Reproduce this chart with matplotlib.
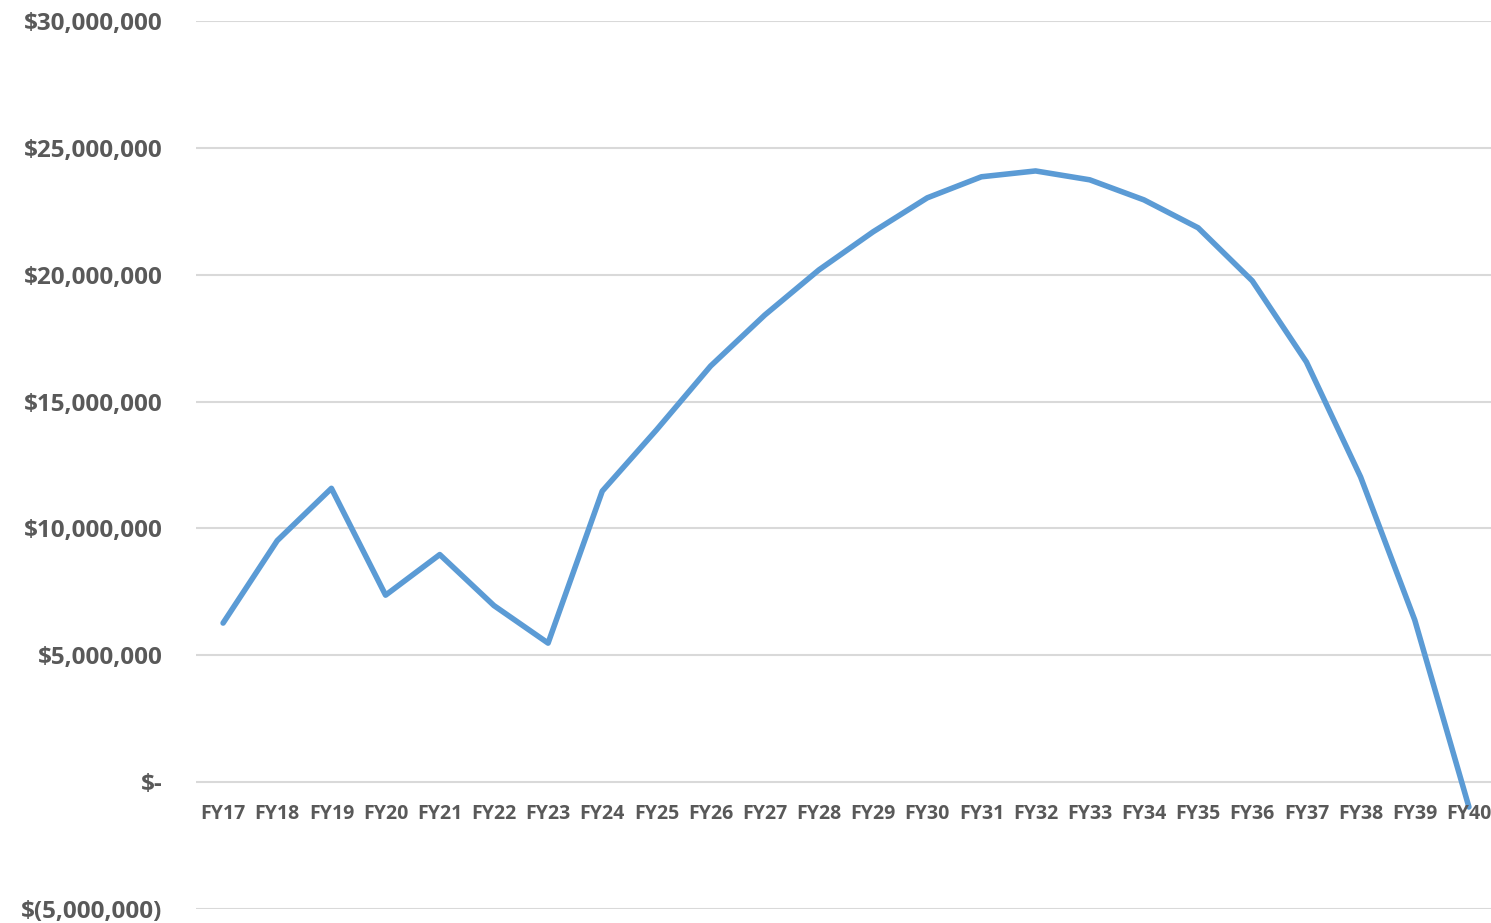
import matplotlib
matplotlib.use("Agg")
import matplotlib.pyplot as plt
from matplotlib.ticker import FuncFormatter

# fiscal years and projected balance
years = ["FY%d" % y for y in range(17, 41)]
balance = [6.27e6, 9.52e6, 11.58e6, 7.37e6, 8.97e6, 6.96e6, 5.48e6,
           11.47e6, 13.88e6, 16.40e6, 18.41e6, 20.19e6, 21.69e6, 23.03e6,
           23.86e6, 24.09e6, 23.74e6, 22.95e6, 21.85e6, 19.76e6, 16.56e6,
           12.03e6, 6.39e6, -0.98e6]
y_ticks = [-5e6, 0, 5e6, 10e6, 15e6, 20e6, 25e6, 30e6]

text_color = "#595959"
font = "Open Sans"


def money(v, pos=None):
    if v == 0:
        return "$-"
    if v < 0:
        return "$(" + format(int(-v), ",") + ")"
    return "$" + format(int(v), ",")


fig = plt.figure(figsize=(14.91, 9.23), dpi=100)
ax = fig.add_axes([196 / 1491, 14 / 923, 1300 / 1491, 888 / 923])

x = list(range(len(years)))
ax.plot(x, balance, color="#5B9BD5", linewidth=4, solid_joinstyle="round",
        solid_capstyle="round", zorder=3)

ax.set_xlim(-0.5, len(years) - 0.5)
ax.set_ylim(-5e6, 30e6)
ax.set_yticks(y_ticks)
ax.yaxis.set_major_formatter(FuncFormatter(money))
ax.grid(axis="y", color="#D9D9D9", linewidth=1.5)
ax.set_axisbelow(True)
for s in ax.spines.values():
    s.set_visible(False)
ax.tick_params(axis="y", length=0, pad=24, labelsize=17.5, labelcolor=text_color)
for lbl in ax.get_yticklabels():
    lbl.set_fontweight("bold")
    lbl.set_family(font)
ax.set_xticks([])

# category labels sit just under the zero line
for i, name in enumerate(years):
    ax.annotate(name, (i, 0), xytext=(0, -23), textcoords="offset points",
                ha="center", va="center", fontsize=14, fontweight="bold",
                color=text_color, family=font, annotation_clip=False)

fig.savefig("out.png", dpi=100)
